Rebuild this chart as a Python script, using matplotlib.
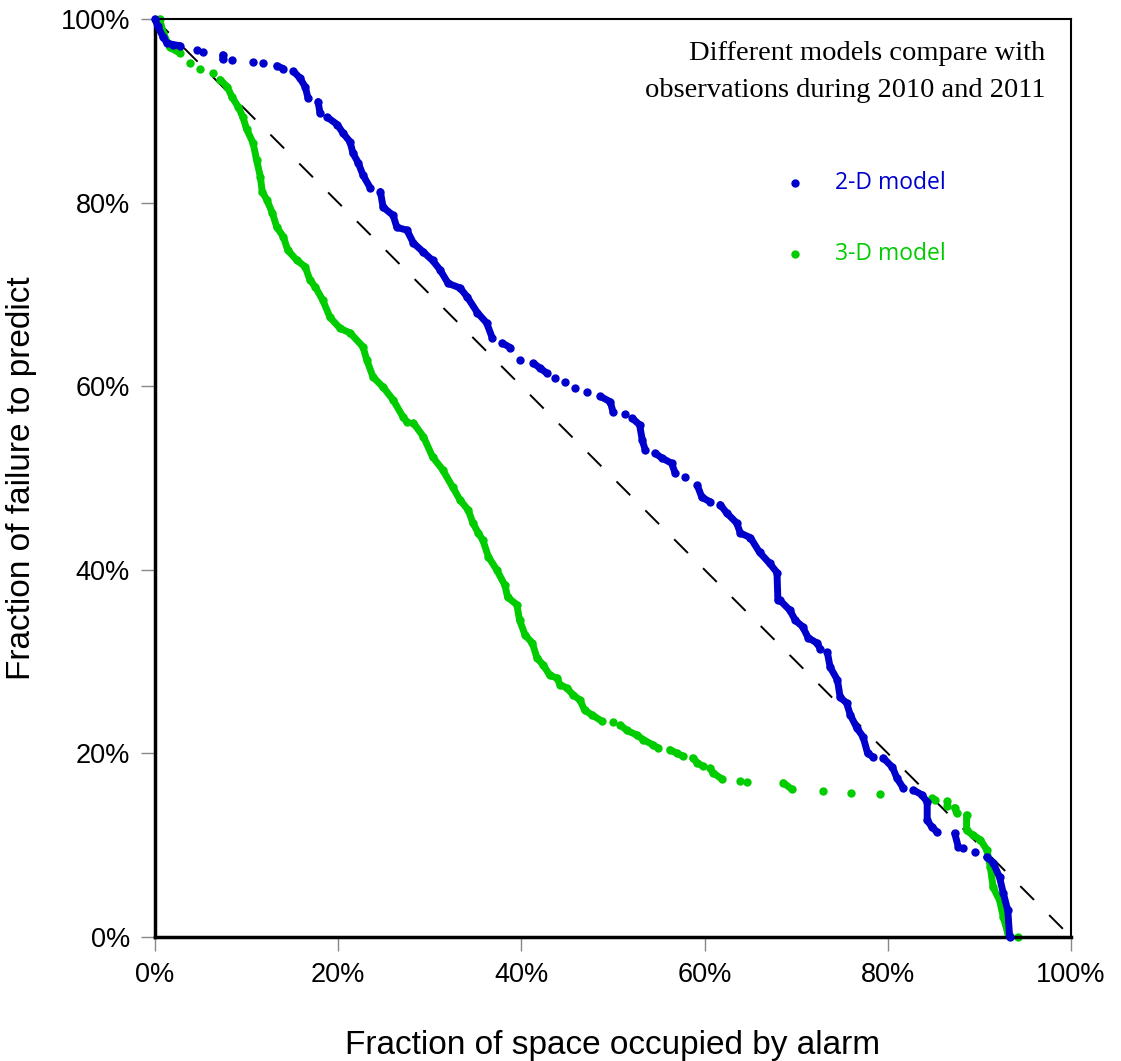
import numpy as np
import matplotlib.pyplot as plt

nan = np.nan

# 2-D model curve (percent), nan splits the dense runs from isolated dots
blue_x = [0, 0.3, 0.9, 1.3, 2.0, 2.7, nan, 4.6, nan, 5.2, nan, 7.4, 7.4, nan, 8.4, nan,
          10.7, nan, 11.8, nan, 13.3, 14.0, nan, 15.1, 15.8, 16.4, 16.7, nan, 17.8, 18.0, nan,
          18.8, 19.9, 20.5, 21.3, 21.6, 22.2, 22.7, 23.5, nan,
          24.6, 24.9, 26.0, 26.4, 27.5, 28.2, 29.3, 30.3, 31.1, 32.0, 33.3, 34.1, 35.2, 36.2, 36.8, nan,
          37.9, 38.8, nan, 39.8, nan, 41.3, 42.0, 42.8, nan, 43.7, nan, 44.8, nan, 45.9, nan, 47.2, nan,
          48.6, 49.7, 50.0, nan, 51.3, nan, 52.1, 52.9, 53.2, 53.5, nan, 54.6, 55.3, 56.4, 56.8, nan,
          57.9, nan, 59.2, 59.7, 60.6, nan, 61.7, 62.4, 63.5, 63.9, 65.0, 66.0, 67.1, 67.9, 68.0,
          68.2, 69.3, 69.9, 70.7, 71.3, 72.3, 72.6, nan,
          73.4, 73.7, 74.5, 74.8, 75.5, 75.9, 76.6, 77.3, 77.8, 78.4, nan,
          79.5, 80.5, 81.0, 81.7, nan, 82.8, 83.7, 84.3, 84.3, 84.8, 85.4, nan,
          87.3, 87.7, nan, 88.2, nan, 89.5, nan, 90.8, 91.5, 92.2, 92.6, 93.1, 93.3]
blue_y = [100, 99.2, 98.0, 97.4, 97.2, 97.1, nan, 96.6, nan, 96.4, nan, 96.1, 95.6, nan, 95.5, nan,
          95.3, nan, 95.2, nan, 94.9, 94.6, nan, 94.3, 93.6, 92.6, 91.4, nan, 91.0, 89.8, nan,
          89.3, 88.5, 87.6, 86.6, 85.4, 84.3, 83.0, 81.6, nan,
          81.2, 79.5, 78.6, 77.3, 77.0, 75.6, 74.6, 73.7, 72.7, 71.2, 70.7, 69.7, 68.0, 66.9, 65.3, nan,
          64.7, 64.2, nan, 62.9, nan, 62.5, 62.0, 61.4, nan, 60.9, nan, 60.5, nan, 59.8, nan, 59.4, nan,
          58.9, 58.3, 57.2, nan, 57.0, nan, 56.5, 55.8, 54.1, 53.1, nan, 52.7, 52.2, 51.6, 50.5, nan,
          50.1, nan, 49.2, 47.9, 47.4, nan, 47.1, 46.2, 45.1, 44.0, 43.5, 41.9, 40.7, 39.7, 36.7,
          36.7, 35.6, 34.5, 33.8, 32.6, 32.0, 31.4, nan,
          31.0, 29.4, 28.0, 26.1, 25.5, 24.2, 22.8, 21.8, 20.0, 19.6, nan,
          19.5, 18.5, 17.3, 16.2, nan, 16.0, 15.5, 14.7, 12.7, 12.0, 11.4, nan,
          11.3, 9.8, nan, 9.7, nan, 9.3, nan, 8.7, 8.1, 6.5, 4.8, 2.9, 0]

# 3-D model curve (percent)
green_x = [0.5, 0.9, 1.6, 2.7, nan, 3.8, nan, 4.9, nan, 6.3, nan,
           7.1, 7.9, 8.4, 9.1, 9.6, 10.0, 10.7, 11.1, 11.5, 11.7, 12.2, 12.8, 13.3, 14.0, 14.5,
           15.5, 16.4, 16.9, 17.5, 18.3, 19.1, 20.2, 21.3, 22.7, 23.1, 23.8, 24.9, 26.0, 27.1, 27.5, nan,
           28.2, 29.3, 30.3, 31.4, 32.5, 33.3, 34.2, 34.7, 35.3, 35.8, 36.4, 37.3, 38.2, 38.5, 39.5,
           39.8, 40.4, 41.2, 41.7, 42.4, 43.1, 43.9, 44.2, 45.0, 45.6, 46.4, 46.9, 47.7, 48.8, nan,
           50.0, nan, 50.8, 51.5, 52.6, 53.3, 54.4, 54.9, nan, 56.2, 57.0, 57.6, nan,
           58.7, 59.2, 59.8, nan, 60.6, 60.9, 61.9, nan, 63.9, nan, 64.6, nan, 68.6, 69.5, nan,
           72.9, nan, 76.0, nan, 79.1, nan, 84.8, 85.2, nan, 86.5, 86.5, nan, 87.3, 87.5, nan,
           88.6, 88.6, 89.3, 90.1, 90.8, 91.2, 91.5, 92.2, 92.6, 93.1, 93.3, nan, 94.2]
green_y = [100, 98.5, 96.9, 96.3, nan, 95.2, nan, 94.6, nan, 94.1, nan,
           93.4, 92.6, 91.5, 90.4, 89.3, 88.0, 86.5, 84.6, 82.8, 81.2, 80.3, 78.9, 77.3, 76.3, 74.8,
           73.7, 73.0, 71.6, 70.8, 69.4, 67.5, 66.3, 65.8, 64.3, 62.9, 61.0, 59.9, 58.5, 56.6, 56.1, nan,
           56.0, 54.5, 52.3, 50.9, 49.0, 47.6, 46.5, 45.1, 44.0, 43.2, 41.4, 40.0, 38.3, 37.0, 36.2,
           34.5, 32.9, 32.0, 30.4, 29.6, 28.5, 28.2, 27.5, 27.1, 26.4, 25.8, 24.7, 24.2, 23.5, nan,
           23.4, nan, 23.1, 22.5, 22.0, 21.5, 20.9, 20.6, nan, 20.4, 20.0, 19.7, nan,
           19.5, 19.0, 18.6, nan, 18.4, 17.9, 17.2, nan, 17.0, nan, 16.9, nan, 16.8, 16.1, nan,
           15.9, nan, 15.7, nan, 15.6, nan, 15.1, 14.9, nan, 14.8, 14.3, nan, 14.1, 13.5, nan,
           13.3, 11.6, 11.1, 10.6, 9.5, 7.6, 5.4, 4.0, 2.2, 0.4, 0.1, nan, 0]

ticks = [0, 20, 40, 60, 80, 100]
tick_labels = ['0%', '20%', '40%', '60%', '80%', '100%']

blue = '#0000cc'
green = '#00cc00'

fig = plt.figure(figsize=(11.21, 10.61), dpi=100)
ax = fig.add_axes([0.1383, 0.1169, 0.8171, 0.8652])

# reference diagonal
ax.plot([0, 100], [100, 0], color='black', lw=1.4, dashes=(10, 11), zorder=1)

ax.plot(green_x, green_y, '-o', color=green, lw=5, ms=5, solid_capstyle='round',
        clip_on=False, zorder=2)
ax.plot(blue_x, blue_y, '-o', color=blue, lw=5, ms=5, solid_capstyle='round',
        clip_on=False, zorder=3)

ax.set_xlim(0, 100)
ax.set_ylim(0, 100)
ax.set_xticks(ticks)
ax.set_xticklabels(tick_labels)
ax.set_yticks(ticks)
ax.set_yticklabels(tick_labels)
ax.tick_params(length=10, width=1, color='#888888', labelsize=19.5, pad=8)
for lab in ax.get_xticklabels() + ax.get_yticklabels():
    lab.set_family('Liberation Sans')

for side in ['left', 'bottom']:
    ax.spines[side].set_linewidth(2.5)
for side in ['top', 'right']:
    ax.spines[side].set_linewidth(1.5)

ax.set_xlabel('Fraction of space occupied by alarm', fontsize=24,
              family='Liberation Sans', labelpad=30)
ax.set_ylabel('Fraction of failure to predict', fontsize=24,
              family='Liberation Sans', labelpad=17)

ax.text(0.972, 0.976, 'Different models compare with\nobservations during 2010 and 2011',
        transform=ax.transAxes, ha='right', va='top', fontsize=20.5,
        family='Liberation Serif', linespacing=1.65)

# legend drawn by hand as in the original
ax.plot([0.699], [0.821], 'o', color=blue, ms=5, transform=ax.transAxes)
ax.text(0.742, 0.821, '2-D model', color=blue, fontsize=16.5, family='Open Sans',
        transform=ax.transAxes, va='center')
ax.plot([0.699], [0.744], 'o', color=green, ms=5, transform=ax.transAxes)
ax.text(0.742, 0.744, '3-D model', color=green, fontsize=16.5, family='Open Sans',
        transform=ax.transAxes, va='center')

plt.savefig('out.png')
